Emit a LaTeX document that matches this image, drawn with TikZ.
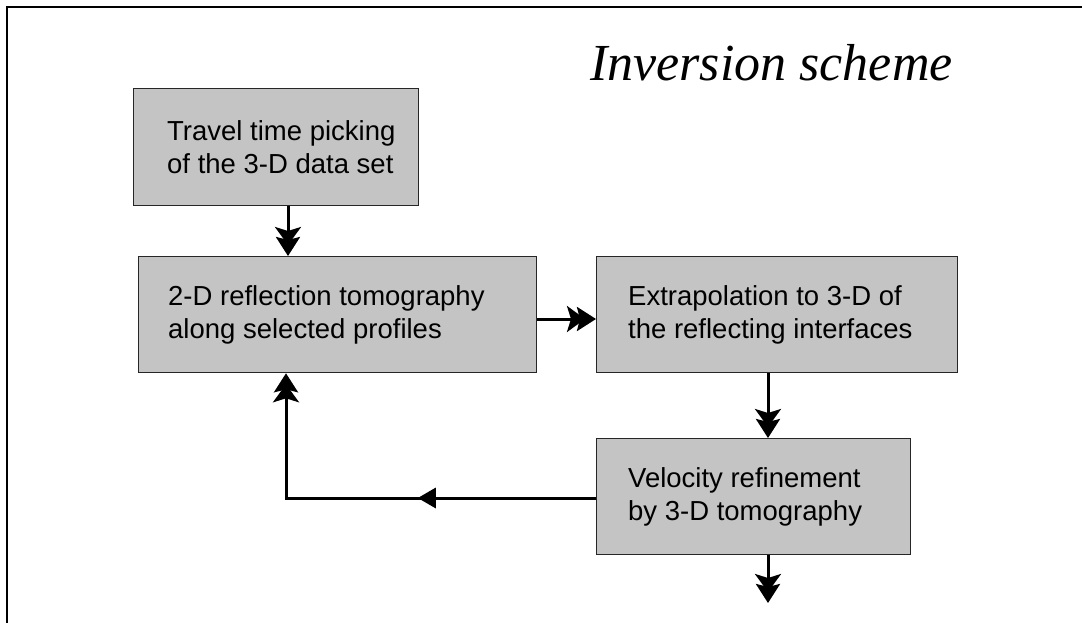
\documentclass[tikz,border=0pt]{standalone}
\usepackage{fontspec}
\setmainfont{Liberation Sans}
\newfontfamily\titlefont{Liberation Serif}
\usetikzlibrary{arrows.meta,decorations.markings}
\tikzset{
  stepbox/.style={draw=black!85, line width=1.3pt, fill=black!23, inner sep=0pt, anchor=north west},
  steptext/.style={align=left, inner sep=0pt, anchor=west, font=\fontsize{27.5}{33}\selectfont},
  conn/.style={line width=3pt, draw=black},
  bigtip/.style={-{Stealth[length=18pt,width=26pt,inset=4pt,sep=-8pt]Stealth[length=19pt,width=24pt,inset=3pt]}},
}
\begin{document}
\begin{tikzpicture}[x=1pt,y=-1pt]
\useasboundingbox (0,0) rectangle (1082,623);
% frame
\draw[line width=2pt] (1082,7) -- (7,7) -- (7,623);
% title
\node[anchor=base west, font=\titlefont\itshape\fontsize{52}{58}\selectfont, inner sep=0pt] (title) at (590,81) {Inversion scheme};
% boxes
\node[stepbox, minimum width=285pt, minimum height=117pt] (b1) at (133,88) {};
\node[stepbox, minimum width=398pt, minimum height=116pt] (b2) at (138,256) {};
\node[stepbox, minimum width=361pt, minimum height=116pt] (b3) at (596,256) {};
\node[stepbox, minimum width=314pt, minimum height=116pt] (b4) at (596,438) {};
\node[steptext] (t1) at ([xshift=34pt]b1.west) {Travel time picking\\of the 3-D data set};
\node[steptext] (t2) at ([xshift=30pt]b2.west) {2-D reflection tomography\\along selected profiles};
\node[steptext] (t3) at ([xshift=32pt]b3.west) {Extrapolation to 3-D of\\the reflecting interfaces};
\node[steptext] (t4) at ([xshift=32pt]b4.west) {Velocity refinement\\by 3-D tomography};
% connector coordinates
\coordinate (xa) at (288,0);
\coordinate (xb) at (768,0);
\coordinate (xf) at (286,0);
\coordinate (ya) at (0,319);
\coordinate (yf) at (0,498);
\coordinate (out) at (768,603);
\coordinate (corner) at (286,498);
% connectors
\draw[conn, bigtip] (xa |- b1.south) -- (xa |- b2.north);
\draw[conn, bigtip] (b2.east |- ya) -- (b3.west |- ya);
\draw[conn, bigtip] (xb |- b3.south) -- (xb |- b4.north);
\draw[conn, bigtip] (xb |- b4.south) -- (out);
\draw[conn, bigtip, postaction={decorate},
  decoration={markings, mark=at position 0.41 with {\arrow[line width=3pt]{Triangle[length=18pt,width=20pt]}}}]
  (b4.west |- yf) -- (corner) -- (xf |- b2.south);
\end{tikzpicture}
\end{document}
